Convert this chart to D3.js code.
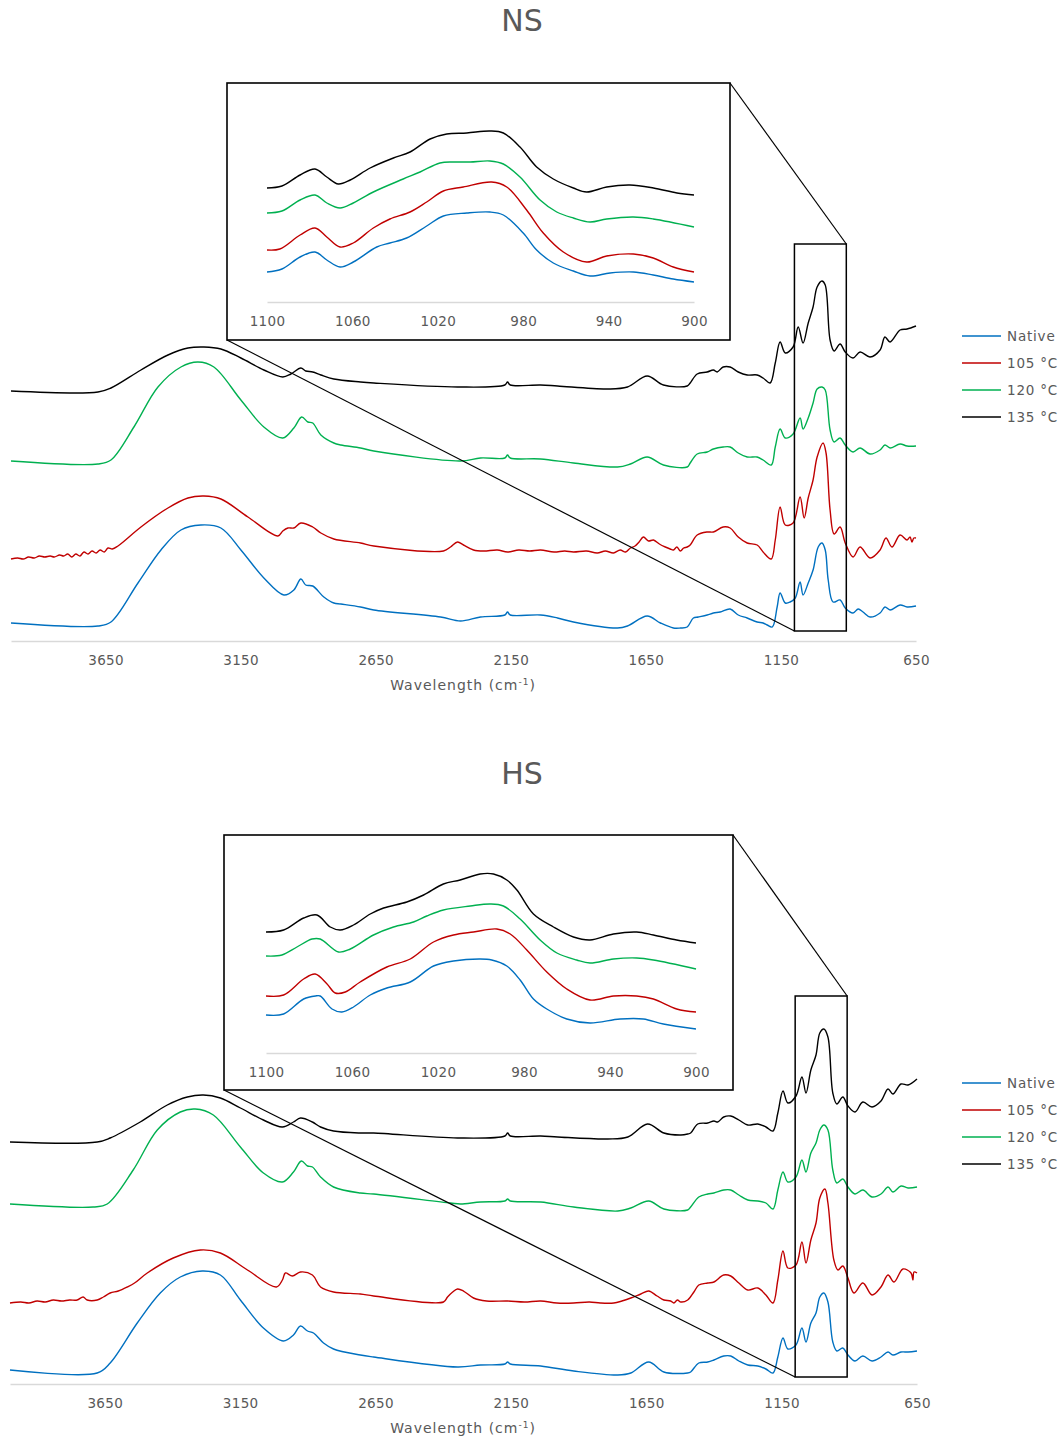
<!DOCTYPE html>
<html>
<head>
<meta charset="utf-8">
<script src="https://cdn.jsdelivr.net/npm/d3@7"></script>
<style>
  html, body { margin: 0; padding: 0; background: #fff; }
  svg text { font-family: "DejaVu Sans", sans-serif; fill: #595959; }
</style>
</head>
<body>
<svg id="chart" width="1062" height="1441"></svg>
<script>
// ---------- axis ticks & labels ----------
const wavenumberTicks = [3650, 3150, 2650, 2150, 1650, 1150, 650];
const insetTicks = [1100, 1060, 1020, 980, 940, 900];
const seriesNames = ["Native", "105 °C", "120 °C", "135 °C"];
const zoomWindow = [1100, 908];

// ---------- NS spectra: [wavenumber cm-1, offset absorbance] ----------
const nsNative = [[4000,0.18],[3678,0.15],[3630,0.19],[3530,0.58],[3445,0.91],[3371,1.11],[3297,1.16],[3223,1.13],[3149,0.91],[3064,0.63],[2990,0.46],[2953,0.51],[2927,0.62],[2909,0.56],[2883,0.55],[2842,0.44],[2805,0.38],[2779,0.37],[2706,0.34],[2657,0.31],[2410,0.24],[2336,0.20],[2262,0.24],[2172,0.26],[2162,0.29],[2152,0.26],[2040,0.26],[1977,0.23],[1918,0.19],[1755,0.13],[1718,0.15],[1645,0.25],[1596,0.18],[1548,0.13],[1522,0.13],[1497,0.14],[1474,0.23],[1456,0.24],[1423,0.26],[1400,0.28],[1375,0.29],[1338,0.32],[1308,0.26],[1275,0.23],[1238,0.19],[1216,0.18],[1201,0.16],[1182,0.14],[1164,0.34],[1153,0.48],[1134,0.38],[1116,0.39],[1097,0.43],[1079,0.59],[1068,0.46],[1049,0.58],[1031,0.71],[1012,0.94],[998,0.98],[986,0.91],[975,0.61],[957,0.39],[931,0.41],[912,0.33],[883,0.28],[864,0.32],[846,0.29],[820,0.24],[783,0.28],[765,0.34],[746,0.31],[709,0.36],[683,0.34],[650,0.35]];

const ns105 = [[4000,0.82],[3975,0.83],[3955,0.82],[3935,0.84],[3914,0.83],[3895,0.85],[3875,0.84],[3855,0.85],[3840,0.84],[3820,0.86],[3805,0.85],[3790,0.87],[3775,0.84],[3760,0.87],[3745,0.85],[3730,0.89],[3715,0.87],[3700,0.90],[3685,0.88],[3670,0.91],[3655,0.89],[3641,0.93],[3625,0.92],[3604,0.95],[3519,1.14],[3419,1.33],[3345,1.43],[3286,1.45],[3223,1.42],[3123,1.24],[3012,1.05],[2994,1.10],[2975,1.13],[2953,1.13],[2927,1.18],[2883,1.14],[2853,1.08],[2805,1.02],[2706,0.98],[2657,0.95],[2399,0.90],[2373,0.94],[2347,0.99],[2325,0.96],[2288,0.91],[2250,0.90],[2200,0.91],[2162,0.89],[2120,0.91],[2080,0.90],[2040,0.91],[1990,0.89],[1950,0.90],[1918,0.89],[1870,0.90],[1830,0.88],[1800,0.90],[1770,0.88],[1745,0.91],[1725,0.89],[1707,0.93],[1690,0.95],[1675,0.99],[1659,1.04],[1640,1.00],[1622,1.01],[1600,0.97],[1578,0.94],[1560,0.92],[1548,0.91],[1535,0.94],[1522,0.90],[1510,0.93],[1497,0.94],[1486,0.96],[1460,1.06],[1423,1.09],[1400,1.09],[1364,1.14],[1338,1.13],[1308,1.04],[1275,0.98],[1238,0.96],[1216,0.89],[1186,0.82],[1171,1.01],[1153,1.34],[1134,1.16],[1105,1.18],[1079,1.44],[1064,1.23],[1049,1.43],[1031,1.61],[1016,1.84],[994,1.98],[983,1.88],[968,1.31],[953,1.07],[931,1.14],[912,0.98],[883,0.84],[857,0.94],[820,0.83],[783,0.91],[761,1.03],[739,0.94],[709,1.06],[683,1.01],[672,1.04],[665,0.99],[658,1.03],[650,1.03]];

const ns120 = [[4000,1.80],[3678,1.77],[3630,1.81],[3545,2.14],[3456,2.54],[3371,2.74],[3308,2.79],[3249,2.74],[3149,2.41],[3064,2.14],[2994,2.03],[2953,2.13],[2924,2.24],[2901,2.19],[2883,2.18],[2853,2.06],[2805,1.98],[2779,1.96],[2706,1.93],[2657,1.90],[2336,1.80],[2262,1.83],[2172,1.83],[2162,1.86],[2152,1.83],[2040,1.82],[1918,1.78],[1755,1.74],[1707,1.77],[1645,1.84],[1585,1.76],[1497,1.74],[1486,1.78],[1460,1.87],[1423,1.89],[1400,1.92],[1364,1.94],[1338,1.94],[1308,1.88],[1275,1.84],[1238,1.84],[1216,1.81],[1186,1.76],[1171,1.94],[1153,2.12],[1134,2.03],[1105,2.07],[1079,2.23],[1068,2.12],[1049,2.23],[1031,2.38],[1016,2.52],[998,2.54],[986,2.51],[968,2.11],[953,1.99],[931,2.03],[912,1.96],[883,1.89],[857,1.93],[820,1.87],[783,1.91],[765,1.96],[746,1.93],[709,1.97],[683,1.95],[650,1.95]];

const ns135 = [[4000,2.50],[3678,2.49],[3630,2.53],[3519,2.71],[3419,2.86],[3345,2.93],[3286,2.94],[3223,2.92],[3149,2.83],[3064,2.71],[2994,2.64],[2964,2.67],[2927,2.73],[2909,2.70],[2883,2.69],[2853,2.66],[2805,2.62],[2706,2.59],[2657,2.58],[2347,2.54],[2172,2.56],[2162,2.59],[2152,2.56],[2040,2.56],[1977,2.55],[1792,2.52],[1718,2.54],[1645,2.65],[1585,2.56],[1497,2.55],[1486,2.58],[1460,2.67],[1423,2.69],[1400,2.71],[1386,2.69],[1364,2.74],[1338,2.74],[1308,2.69],[1275,2.66],[1238,2.66],[1216,2.63],[1190,2.58],[1171,2.78],[1153,2.99],[1134,2.88],[1105,2.94],[1086,3.14],[1068,2.98],[1049,3.18],[1031,3.34],[1016,3.54],[998,3.60],[986,3.56],[968,3.01],[953,2.90],[931,2.97],[912,2.89],[883,2.83],[857,2.89],[820,2.84],[783,2.91],[765,3.04],[746,2.99],[709,3.11],[683,3.12],[650,3.15]];

// NS, 1100–900 cm-1 detail (stacked)
const nsInsetNative = [[1100,0.30],[1093,0.33],[1084.5,0.45],[1077.5,0.50],[1072,0.42],[1065.8,0.35],[1059.6,0.40],[1048.6,0.55],[1042.4,0.59],[1034.6,0.64],[1025.2,0.76],[1017.4,0.86],[1006.4,0.89],[995.6,0.90],[989.3,0.87],[980,0.69],[973.7,0.52],[965.9,0.39],[956.5,0.31],[948.7,0.26],[939.3,0.29],[928.4,0.30],[919.1,0.27],[909.7,0.23],[900,0.20]];
const nsInset105 = [[1100,0.52],[1094,0.53],[1084.5,0.67],[1077.5,0.74],[1072,0.65],[1065.8,0.55],[1059.6,0.59],[1050.2,0.74],[1042.4,0.83],[1033,0.90],[1025.2,1.00],[1017.4,1.11],[1008.1,1.15],[994.8,1.20],[987.7,1.15],[978.4,0.92],[970.6,0.69],[961.2,0.50],[950.3,0.40],[940.9,0.46],[928.4,0.48],[919.1,0.44],[909.7,0.35],[900,0.30]];
const nsInset120 = [[1100,0.89],[1093,0.91],[1084.5,1.02],[1077.5,1.07],[1072,0.99],[1065.8,0.94],[1059.6,0.99],[1050.2,1.10],[1036.2,1.23],[1028.3,1.30],[1019,1.39],[1012.7,1.40],[1004.9,1.40],[995.6,1.41],[989.3,1.38],[981.5,1.25],[972.1,1.02],[964.3,0.90],[956.5,0.84],[948.7,0.80],[940.9,0.83],[928.4,0.85],[919.1,0.83],[900,0.75]];
const nsInset135 = [[1100,1.14],[1093,1.16],[1084.5,1.27],[1077.5,1.33],[1072,1.25],[1066.6,1.18],[1061,1.22],[1051.7,1.34],[1040.8,1.44],[1033,1.50],[1023.6,1.63],[1015.8,1.68],[1006.4,1.69],[995.6,1.71],[989.3,1.69],[981.5,1.55],[973.7,1.35],[965.9,1.23],[956.5,1.14],[950.3,1.10],[940.9,1.15],[930,1.17],[919,1.14],[908,1.09],[900,1.07]];

// ---------- HS spectra ----------
const hsNative = [[4000,0.14],[3678,0.11],[3630,0.21],[3530,0.61],[3445,0.91],[3371,1.07],[3290,1.13],[3223,1.09],[3149,0.84],[3064,0.56],[2990,0.43],[2953,0.49],[2927,0.58],[2901,0.53],[2879,0.51],[2842,0.41],[2805,0.35],[2706,0.29],[2657,0.27],[2347,0.17],[2262,0.19],[2172,0.20],[2162,0.22],[2152,0.20],[2040,0.18],[1918,0.13],[1755,0.09],[1707,0.11],[1641,0.22],[1585,0.12],[1497,0.11],[1486,0.12],[1456,0.21],[1423,0.22],[1400,0.24],[1364,0.28],[1338,0.28],[1308,0.23],[1275,0.19],[1238,0.18],[1208,0.15],[1182,0.11],[1164,0.27],[1145,0.46],[1127,0.35],[1097,0.39],[1075,0.56],[1060,0.42],[1042,0.61],[1023,0.71],[1009,0.87],[994,0.91],[979,0.82],[961,0.42],[946,0.33],[924,0.36],[905,0.29],[879,0.23],[850,0.28],[816,0.23],[783,0.27],[757,0.32],[739,0.29],[709,0.32],[683,0.32],[650,0.33]];

const hs105 = [[4000,0.81],[3960,0.82],[3930,0.81],[3900,0.83],[3870,0.82],[3840,0.84],[3810,0.83],[3780,0.84],[3752,0.84],[3730,0.87],[3715,0.84],[3678,0.84],[3655,0.87],[3630,0.91],[3600,0.93],[3567,0.97],[3540,1.01],[3493,1.11],[3397,1.26],[3297,1.34],[3223,1.31],[3123,1.14],[3016,0.97],[2994,1.04],[2983,1.11],[2957,1.08],[2927,1.12],[2883,1.09],[2853,0.97],[2805,0.92],[2706,0.90],[2657,0.88],[2399,0.82],[2384,0.87],[2365,0.92],[2347,0.95],[2325,0.93],[2288,0.86],[2240,0.83],[2162,0.83],[2100,0.82],[2040,0.83],[1980,0.81],[1918,0.81],[1860,0.82],[1820,0.81],[1770,0.81],[1740,0.83],[1707,0.86],[1670,0.90],[1641,0.93],[1610,0.88],[1585,0.84],[1560,0.83],[1548,0.81],[1535,0.84],[1522,0.82],[1497,0.84],[1474,0.92],[1456,0.99],[1423,1.01],[1400,1.02],[1364,1.09],[1338,1.08],[1308,1.01],[1275,0.94],[1238,0.96],[1208,0.89],[1182,0.81],[1164,1.04],[1145,1.33],[1127,1.16],[1097,1.19],[1075,1.42],[1060,1.21],[1042,1.44],[1023,1.61],[1009,1.86],[990,1.95],[979,1.81],[957,1.24],[942,1.14],[924,1.18],[905,1.06],[883,0.91],[850,1.01],[816,0.89],[783,0.97],[757,1.09],[735,1.02],[702,1.15],[672,1.11],[665,1.04],[661,1.12],[650,1.11]];

const hs120 = [[4000,1.80],[3693,1.77],[3641,1.80],[3545,2.14],[3456,2.54],[3371,2.72],[3316,2.75],[3249,2.69],[3149,2.37],[3064,2.11],[2994,2.02],[2953,2.12],[2924,2.23],[2901,2.18],[2883,2.17],[2853,2.07],[2805,1.97],[2706,1.91],[2657,1.90],[2373,1.81],[2336,1.80],[2262,1.82],[2172,1.83],[2162,1.85],[2152,1.83],[2040,1.82],[1918,1.77],[1755,1.73],[1707,1.76],[1641,1.83],[1585,1.75],[1497,1.74],[1486,1.77],[1456,1.87],[1423,1.90],[1400,1.91],[1364,1.94],[1338,1.94],[1308,1.89],[1275,1.84],[1238,1.83],[1208,1.81],[1182,1.75],[1164,1.94],[1145,2.12],[1127,2.02],[1097,2.07],[1075,2.24],[1060,2.12],[1042,2.31],[1023,2.41],[1009,2.54],[994,2.59],[979,2.54],[961,2.14],[946,2.01],[924,2.05],[905,1.97],[879,1.90],[850,1.94],[816,1.87],[783,1.90],[757,1.97],[739,1.92],[709,1.98],[683,1.96],[650,1.97]];

const hs135 = [[4000,2.42],[3678,2.42],[3630,2.46],[3519,2.62],[3419,2.79],[3345,2.87],[3286,2.89],[3223,2.86],[3149,2.76],[3064,2.64],[2994,2.57],[2953,2.62],[2927,2.66],[2883,2.62],[2853,2.57],[2805,2.53],[2706,2.51],[2657,2.51],[2347,2.46],[2172,2.48],[2162,2.51],[2152,2.48],[2040,2.48],[1977,2.47],[1792,2.45],[1718,2.47],[1645,2.60],[1585,2.51],[1522,2.49],[1497,2.50],[1486,2.51],[1460,2.60],[1423,2.61],[1400,2.63],[1386,2.62],[1364,2.67],[1338,2.68],[1308,2.64],[1275,2.59],[1238,2.60],[1208,2.57],[1182,2.53],[1164,2.71],[1145,2.93],[1127,2.81],[1097,2.88],[1075,3.07],[1060,2.91],[1042,3.14],[1023,3.29],[1009,3.51],[994,3.55],[979,3.47],[961,2.91],[946,2.80],[924,2.87],[905,2.78],[879,2.72],[850,2.82],[816,2.77],[783,2.83],[757,2.95],[739,2.90],[709,3.00],[683,2.99],[650,3.05]];

// HS, 1100–900 cm-1 detail (stacked)
const hsInsetNative = [[1100,0.38],[1091.8,0.39],[1082.5,0.54],[1077,0.57],[1074.8,0.57],[1069.3,0.44],[1064.7,0.41],[1059.3,0.46],[1051.5,0.58],[1043.8,0.65],[1032.9,0.71],[1022.1,0.87],[1012.8,0.92],[1000.4,0.94],[995,0.93],[988,0.87],[981.8,0.73],[975.6,0.54],[969.4,0.44],[960.1,0.34],[949.3,0.30],[935.3,0.34],[924.5,0.34],[915.2,0.29],[900,0.24]];
const hsInset105 = [[1100,0.57],[1091.8,0.58],[1082.5,0.74],[1077.1,0.79],[1071.6,0.69],[1067.8,0.60],[1063.1,0.61],[1056.2,0.71],[1043.8,0.86],[1032.9,0.94],[1022.1,1.11],[1012.8,1.18],[1003.5,1.21],[992.6,1.24],[986.4,1.19],[978.7,1.03],[969.4,0.81],[960.1,0.64],[949.3,0.53],[938.4,0.57],[927.6,0.57],[919.8,0.54],[909,0.44],[900,0.41]];
const hsInset120 = [[1100,0.97],[1092.6,0.98],[1085.6,1.06],[1078.6,1.14],[1074.8,1.14],[1066.3,1.01],[1060.8,1.04],[1050,1.18],[1040.7,1.26],[1031.4,1.31],[1025.2,1.37],[1017.5,1.43],[1005,1.47],[995.7,1.49],[989.6,1.47],[981.8,1.34],[972.5,1.13],[964.7,1.00],[955.5,0.93],[949.3,0.90],[938.4,0.94],[927.6,0.95],[919.8,0.93],[900,0.84]];
const hsInset135 = [[1100,1.21],[1091.8,1.23],[1082.5,1.35],[1076.3,1.38],[1070.1,1.26],[1065.5,1.23],[1059.3,1.28],[1051.5,1.39],[1045.3,1.45],[1034.5,1.51],[1026.7,1.58],[1017.5,1.69],[1009.7,1.73],[1000.4,1.79],[994.2,1.79],[988,1.73],[983.3,1.63],[975.6,1.39],[966.3,1.26],[957,1.16],[949.3,1.13],[938.4,1.19],[927.6,1.21],[919.8,1.18],[909,1.13],[900,1.10]];

// ---------- drawing ----------
const seriesColors = ["#0070C0", "#C00000", "#00B050", "#000000"];
const svg = d3.select("#chart");

function styleAxis(sel) {
  sel.select(".domain").attr("stroke", "#d9d9d9").attr("stroke-width", 1.5);
  sel.selectAll(".tick text")
    .attr("fill", "#595959")
    .style("font-family", "DejaVu Sans, sans-serif")
    .style("font-size", "13.5px")
    .style("letter-spacing", "0.3px");
}

function drawPanel(p) {
  const g = svg.append("g");
  const x = d3.scaleLinear().domain([4000, 650]).range(p.xRange);
  const y = d3.scaleLinear().domain([0, 4]).range([p.axisY, p.axisY - 400]);

  // title
  g.append("text")
    .attr("x", 522).attr("y", p.titleY)
    .attr("text-anchor", "middle")
    .style("font-size", "30px")
    .text(p.title);

  // wavenumber axis
  const ax = g.append("g")
    .attr("transform", `translate(0,${p.axisY})`)
    .call(d3.axisBottom(x).tickValues(wavenumberTicks).tickSize(0).tickSizeOuter(0).tickPadding(14).tickFormat(d3.format("d")));
  styleAxis(ax);

  const t = g.append("text")
    .attr("x", 463).attr("y", p.axisY + 49)
    .attr("text-anchor", "middle")
    .style("font-size", "14px")
    .style("letter-spacing", "1px");
  t.append("tspan").text("Wavelength (cm");
  t.append("tspan").attr("dy", -5).style("font-size", "9px").text("-1");
  t.append("tspan").attr("dy", 5).text(")");

  // spectra
  const line = d3.line().x(d => x(d[0])).y(d => y(d[1])).curve(d3.curveCatmullRom.alpha(0.5));
  p.series.forEach((s, i) => {
    g.append("path").datum(s)
      .attr("fill", "none")
      .attr("stroke", seriesColors[i])
      .attr("stroke-width", 1.4)
      .attr("stroke-linejoin", "round")
      .attr("d", line);
  });

  // zoom window and connectors
  const zx0 = x(zoomWindow[0]), zx1 = x(zoomWindow[1]);
  const b = p.inset.box;
  g.append("line").attr("x1", b[2]).attr("y1", b[1]).attr("x2", zx1).attr("y2", p.zoomY[0])
    .attr("stroke", "#000").attr("stroke-width", 1.2);
  g.append("line").attr("x1", b[0]).attr("y1", b[3]).attr("x2", zx0).attr("y2", p.zoomY[1])
    .attr("stroke", "#000").attr("stroke-width", 1.2);
  g.append("rect")
    .attr("x", zx0).attr("y", p.zoomY[0])
    .attr("width", zx1 - zx0).attr("height", p.zoomY[1] - p.zoomY[0])
    .attr("fill", "none").attr("stroke", "#000").attr("stroke-width", 1.5);

  // inset
  g.append("rect")
    .attr("x", b[0]).attr("y", b[1])
    .attr("width", b[2] - b[0]).attr("height", b[3] - b[1])
    .attr("fill", "#fff").attr("stroke", "#000").attr("stroke-width", 1.6);
  const ix = d3.scaleLinear().domain([1100, 900]).range(p.inset.xRange);
  const iy = d3.scaleLinear().domain([0, 4]).range([p.inset.axisY, p.inset.axisY - 400]);
  const iax = g.append("g")
    .attr("transform", `translate(0,${p.inset.axisY})`)
    .call(d3.axisBottom(ix).tickValues(insetTicks).tickSize(0).tickSizeOuter(0).tickPadding(14).tickFormat(d3.format("d")));
  styleAxis(iax);
  const iline = d3.line().x(d => ix(d[0])).y(d => iy(d[1])).curve(d3.curveCatmullRom.alpha(0.5));
  p.inset.series.forEach((s, i) => {
    g.append("path").datum(s)
      .attr("fill", "none")
      .attr("stroke", seriesColors[i])
      .attr("stroke-width", 1.4)
      .attr("d", iline);
  });

  // legend
  seriesNames.forEach((name, i) => {
    const ly = p.legendY + i * 27;
    g.append("line").attr("x1", 962).attr("x2", 1001).attr("y1", ly).attr("y2", ly)
      .attr("stroke", seriesColors[i]).attr("stroke-width", 1.4);
    g.append("text").attr("x", 1007).attr("y", ly + 5)
      .style("font-size", "13.5px").style("letter-spacing", "0.8px")
      .text(name);
  });
}

drawPanel({
  title: "NS", titleY: 31, xRange: [11, 916], axisY: 641, legendY: 336,
  series: [nsNative, ns105, ns120, ns135],
  zoomY: [244, 631],
  inset: { box: [227, 83, 730, 340], xRange: [267, 694], axisY: 302,
           series: [nsInsetNative, nsInset105, nsInset120, nsInset135] }
});

drawPanel({
  title: "HS", titleY: 784, xRange: [10, 917], axisY: 1384, legendY: 1083,
  series: [hsNative, hs105, hs120, hs135],
  zoomY: [996, 1377],
  inset: { box: [224, 835, 733, 1090], xRange: [266, 696], axisY: 1053,
           series: [hsInsetNative, hsInset105, hsInset120, hsInset135] }
});
</script>
</body>
</html>
